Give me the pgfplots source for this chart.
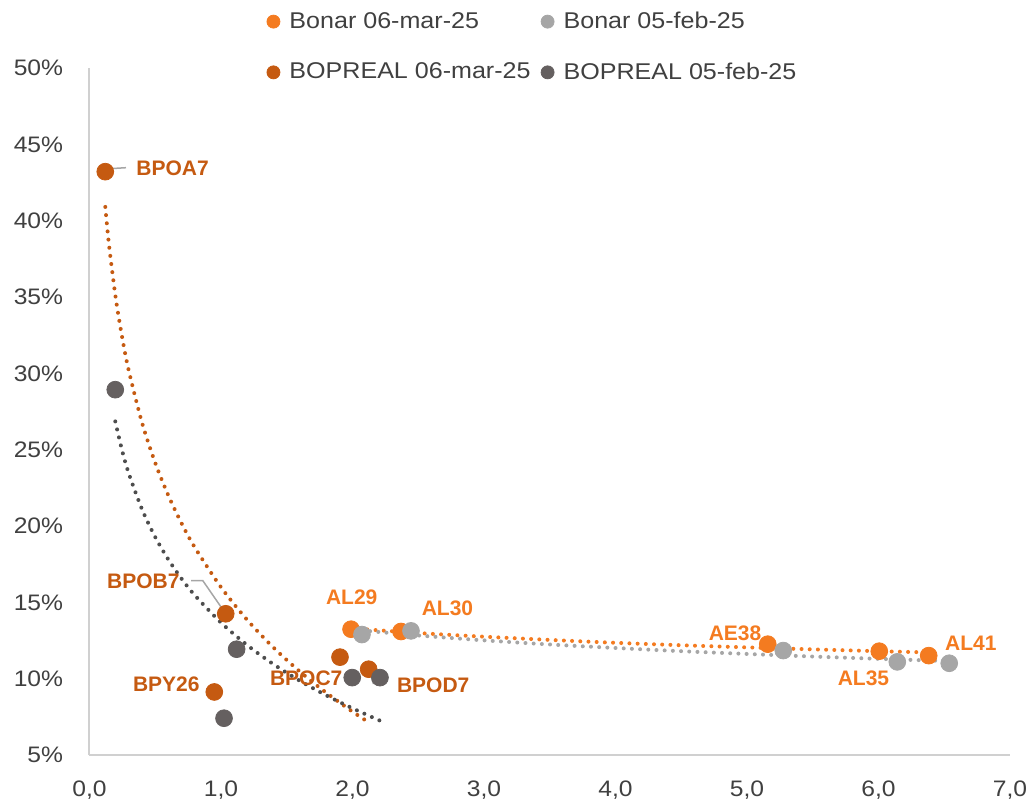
\documentclass[border=0pt]{standalone}
\usepackage{fontspec}
\setmainfont{Liberation Sans}[FakeStretch=1.1]
\newfontfamily\lblfont{Liberation Sans}
\usepackage{pgfplots}
\pgfplotsset{compat=1.18}
\definecolor{bonar}{HTML}{F47B20}
\definecolor{bonarold}{HTML}{A6A6A6}
\definecolor{bopreal}{HTML}{C55A11}
\definecolor{boprealold}{HTML}{656060}
\definecolor{trenddark}{HTML}{4D4D4D}
\definecolor{txt}{HTML}{404040}
\definecolor{axisgray}{HTML}{D0D0D0}
\definecolor{leader}{HTML}{A6A6A6}
\tikzset{
  lbl/.style={font=\lblfont\bfseries\fontsize{10.5}{12}\selectfont, inner sep=0pt},
}
\pgfplotsset{
  trend/.style={line width=2pt, dash pattern=on 0pt off 4.1pt, line cap=round, forget plot},
}
\begin{document}
\begin{tikzpicture}
\path[use as bounding box] (-44.75pt,-22.5pt) rectangle (470.25pt,377.5pt);
\begin{axis}[
  scale only axis, width=460.25pt, height=343.5pt,
  xmin=0, xmax=7, ymin=5, ymax=50,
  axis x line*=bottom, axis y line*=left,
  axis line style={-, draw=axisgray, line width=1pt},
  xtick={0,1,...,7}, ytick={5,10,...,50},
  major tick length=0pt,
  tick label style={font=\fontsize{11.2}{13}\selectfont, text=txt},
  /pgf/number format/assume math mode=true,
  xticklabel={\pgfmathprintnumber[fixed,fixed zerofill,precision=1,use comma]{\tick}},
  yticklabel={\pgfmathprintnumber[fixed,precision=0]{\tick}\%},
  xticklabel style={anchor=north, inner sep=0pt, yshift=-12.5pt},
  yticklabel style={anchor=east, inner sep=0pt, xshift=-13pt},
  clip=false,
  legend columns=2,
  legend cell align=left,
  legend style={at={(0.4804,1.0306)}, anchor=center, draw=none, fill=none,
    font=\fontsize{11.4}{13}\selectfont, text=txt, row sep=15.6pt,
    nodes={inner sep=0pt},
    /tikz/every even column/.append style={column sep=5.25pt},
    /tikz/every odd column/.append style={column sep=4.75pt}},
  legend image code/.code={\draw[#1, mark size=3.25pt] plot coordinates {(0pt,0pt)};},
]
% Bonar 06-mar-25
\addplot[only marks, mark=*, color=bonar, mark size=4.2pt] coordinates {
  (1.989,13.24) (2.369,13.09) (5.158,12.26) (6.006,11.80) (6.382,11.51)};
\addlegendentry{Bonar 06-mar-25}
% Bonar 05-feb-25
\addplot[only marks, mark=*, color=bonarold, mark size=4.2pt] coordinates {
  (2.072,12.89) (2.445,13.13) (5.276,11.84) (6.143,11.10) (6.538,11.01)};
\addlegendentry{Bonar 05-feb-25}
% BOPREAL 06-mar-25
\addplot[only marks, mark=*, color=bopreal, mark size=4.2pt] coordinates {
  (0.120,43.21) (1.036,14.25) (0.949,9.13) (1.905,11.41) (2.123,10.62)};
\addlegendentry{BOPREAL 06-mar-25}
% BOPREAL 05-feb-25
\addplot[only marks, mark=*, color=boprealold, mark size=4.2pt] coordinates {
  (0.196,28.93) (1.119,11.93) (1.023,7.41) (1.998,10.07) (2.209,10.07)};
\addlegendentry{BOPREAL 05-feb-25}

% trend lines
\addplot[trend, color=bopreal, smooth] coordinates {
  (0.12,40.90) (0.15,38.28) (0.2,34.90) (0.25,32.28) (0.3,30.13) (0.4,26.75)
  (0.5,24.13) (0.6,21.99) (0.7,20.18) (0.8,18.61) (1.0,15.99) (1.2,13.84)
  (1.4,12.03) (1.6,10.46) (1.8,9.08) (2.0,7.84) (2.123,7.14)};
\addplot[trend, color=trenddark, smooth] coordinates {
  (0.196,26.85) (0.25,24.88) (0.3,23.41) (0.4,21.08) (0.5,19.27) (0.6,17.80)
  (0.7,16.55) (0.8,15.47) (1.0,13.67) (1.2,12.19) (1.4,10.94) (1.6,9.86)
  (1.8,8.91) (2.0,8.06) (2.209,7.25)};
\addplot[trend, color=bonar, smooth] coordinates {
  (1.989,13.30) (2.5,12.99) (3,12.75) (3.5,12.54) (4,12.35) (4.5,12.19)
  (5,12.05) (5.5,11.92) (6,11.80) (6.382,11.72)};
\addplot[trend, color=bonarold, smooth] coordinates {
  (2.072,13.16) (2.5,12.83) (3,12.51) (3.5,12.24) (4,12.01) (4.5,11.80)
  (5,11.62) (5.5,11.45) (6,11.30) (6.538,11.15)};

% leader lines
\draw[leader, line width=0.75pt] (axis cs:0.120,43.21) -- (axis cs:0.161,43.41) -- (axis cs:0.2776,43.47);
\draw[leader, line width=0.75pt] (axis cs:0.772,16.43) -- (axis cs:0.861,16.43) -- (axis cs:1.036,14.25);
\draw[leader, line width=0.75pt] (axis cs:2.123,10.62) -- (axis cs:2.158,9.70) -- (axis cs:2.255,9.70);

% labels
\node[lbl, text=bopreal, anchor=west] at (axis cs:0.354,43.43) {BPOA7};
\node[lbl, text=bopreal, anchor=east] at (axis cs:0.688,16.36) {BPOB7};
\node[lbl, text=bopreal, anchor=east] at (axis cs:0.840,9.66) {BPY26};
\node[lbl, text=bopreal] at (axis cs:1.648,10.03) {BPOC7};
\node[lbl, text=bopreal, anchor=west] at (axis cs:2.336,9.59) {BPOD7};
\node[lbl, text=bonar] at (axis cs:1.994,15.34) {AL29};
\node[lbl, text=bonar] at (axis cs:2.722,14.62) {AL30};
\node[lbl, text=bonar] at (axis cs:4.909,12.98) {AE38};
\node[lbl, text=bonar] at (axis cs:5.886,10.03) {AL35};
\node[lbl, text=bonar] at (axis cs:6.702,12.32) {AL41};
\end{axis}
\end{tikzpicture}
\end{document}
